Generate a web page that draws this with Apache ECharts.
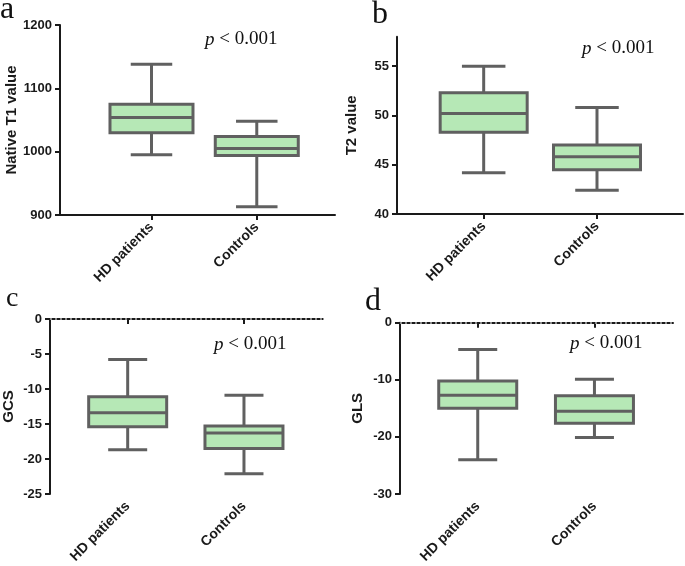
<!DOCTYPE html>
<html>
<head>
<meta charset="utf-8">
<script src="https://cdn.jsdelivr.net/npm/echarts@6/dist/echarts.min.js"></script>
<style>
html,body{margin:0;padding:0;background:#fff;}
#chart{width:685px;height:566px;}
</style>
</head>
<body>
<div id="chart"></div>
<script>
// ---- data ----
const categories = ['HD patients', 'Controls'];
const categoryPos = [1, 2];
// [min, Q1, median, Q3, max]
const t1HD = [995, 1030, 1054, 1075, 1138];
const t1Ctrl = [913, 994, 1005, 1024, 1048];
const t2HD = [44.2, 48.3, 50.2, 52.3, 55.0];
const t2Ctrl = [42.4, 44.5, 45.8, 47.0, 50.8];
const gcsHD = [-18.7, -15.4, -13.4, -11.1, -5.8];
const gcsCtrl = [-22.1, -18.5, -16.3, -15.3, -10.9];
const glsHD = [-24.0, -15.0, -12.7, -10.2, -4.7];
const glsCtrl = [-20.1, -17.6, -15.5, -12.8, -9.9];
const t1Ticks = [900, 1000, 1100, 1200];
const t2Ticks = [40, 45, 50, 55];
const gcsTicks = [-25, -20, -15, -10, -5, 0];
const glsTicks = [-30, -20, -10, 0];
const pText = 'p < 0.001';
const panelLetters = ['a', 'b', 'c', 'd'];
const yNames = ['Native T1 value', 'T2 value', 'GCS', 'GLS'];

const chart = echarts.init(document.getElementById('chart'), null, {renderer: 'canvas'});

const GRAY = '#606060';
const FILL = '#b6e8b6';
const AXIS = '#1a1a1a';
const SANS = '"Liberation Sans", Arial, sans-serif';
const SERIF = '"Liberation Serif", "Times New Roman", serif';

function renderBox(boxW) {
  return function (params, api) {
    const x = api.value(0);
    const lo = api.coord([x, api.value(1)]);
    const q1 = api.coord([x, api.value(2)]);
    const med = api.coord([x, api.value(3)]);
    const q3 = api.coord([x, api.value(4)]);
    const hi = api.coord([x, api.value(5)]);
    const cx = lo[0];
    const hw = boxW / 2, cw = boxW / 4;
    const ls = {stroke: GRAY, lineWidth: 3, fill: null};
    return {
      type: 'group',
      children: [
        {type: 'line', shape: {x1: cx, y1: hi[1], x2: cx, y2: q3[1]}, style: ls},
        {type: 'line', shape: {x1: cx, y1: q1[1], x2: cx, y2: lo[1]}, style: ls},
        {type: 'line', shape: {x1: cx - cw, y1: hi[1], x2: cx + cw, y2: hi[1]}, style: ls},
        {type: 'line', shape: {x1: cx - cw, y1: lo[1], x2: cx + cw, y2: lo[1]}, style: ls},
        {type: 'rect', shape: {x: cx - hw, y: q3[1], width: boxW, height: q1[1] - q3[1]},
          style: {fill: FILL, stroke: GRAY, lineWidth: 3}},
        {type: 'line', shape: {x1: cx - hw, y1: med[1], x2: cx + hw, y2: med[1]}, style: ls}
      ]
    };
  };
}

const panels = [
  {grid: {left: 60, top: 25, width: 275, height: 190}, xr: [0.131, 2.743], yr: [900, 1200], ticks: t1Ticks,
    data: [t1HD, t1Ctrl], boxW: 83, nameGap: 41, zero: false},
  {grid: {left: 397, top: 36.7, width: 286, height: 177.3}, xr: [0.235, 2.759], yr: [40, 58], ticks: t2Ticks,
    data: [t2HD, t2Ctrl], boxW: 87, nameGap: 38, zero: false},
  {grid: {left: 50, top: 319, width: 272.7, height: 176.7}, xr: [0.332, 2.677], yr: [-25, 0], ticks: gcsTicks,
    data: [gcsHD, gcsCtrl], boxW: 78, nameGap: 34, zero: true},
  {grid: {left: 400, top: 322.7, width: 273, height: 171.3}, xr: [0.334, 2.673], yr: [-30, 0], ticks: glsTicks,
    data: [glsHD, glsCtrl], boxW: 78, nameGap: 35, zero: true}
];

const grids = [], xAxes = [], yAxes = [], series = [];
panels.forEach(function (p, i) {
  grids.push(Object.assign({containLabel: false}, p.grid));
  xAxes.push({
    type: 'value', gridIndex: i, min: p.xr[0], max: p.xr[1],
    axisLine: {show: true, lineStyle: {color: AXIS, width: 2}},
    axisTick: {show: true, customValues: categoryPos, length: 5, lineStyle: {color: AXIS, width: 2}},
    axisLabel: {
      customValues: categoryPos, rotate: 45, margin: 10,
      formatter: function (v) { return categories[Math.round(v) - 1]; },
      fontFamily: SANS, fontWeight: 'bold', fontSize: 14, color: '#1a1a1a'
    },
    splitLine: {show: false}
  });
  yAxes.push({
    type: 'value', gridIndex: i, min: p.yr[0], max: p.yr[1],
    name: yNames[i], nameLocation: 'middle', nameGap: p.nameGap,
    nameTextStyle: {fontFamily: SANS, fontWeight: 'bold', fontSize: 15, color: '#1a1a1a'},
    axisLine: {show: true, lineStyle: {color: AXIS, width: 2}},
    axisTick: {show: true, customValues: p.ticks, length: 5, lineStyle: {color: AXIS, width: 2}},
    axisLabel: {customValues: p.ticks, margin: 8, formatter: function (v) { return String(v); },
      fontFamily: SANS, fontWeight: 'bold', fontSize: 13, color: '#1a1a1a'},
    splitLine: {show: false}
  });
  const s = {
    type: 'custom', xAxisIndex: i, yAxisIndex: i,
    renderItem: renderBox(p.boxW),
    encode: {x: 0, y: [1, 2, 3, 4, 5]},
    data: p.data.map(function (d, k) { return [categoryPos[k]].concat(d); }),
    silent: true
  };
  if (p.zero) {
    s.markLine = {
      silent: true, symbol: 'none', label: {show: false},
      lineStyle: {type: [2, 3], color: '#8a8a8a', width: 2},
      data: [{yAxis: 0}]
    };
  }
  series.push(s);
});

const letterPos = [[0, 10, 32], [372, 15, 32], [6, 299, 28], [365, 302, 32]];
const pPos = [[205, 30], [582, 39], [214, 335], [570, 334]];
const graphics = [];
panelLetters.forEach(function (l, i) {
  graphics.push({type: 'text', x: letterPos[i][0], y: letterPos[i][1],
    style: {text: l, fontFamily: SERIF, fontSize: letterPos[i][2], fill: '#111', verticalAlign: 'middle', align: 'left'}});
  graphics.push({type: 'text', left: pPos[i][0], top: pPos[i][1],
    style: {
      text: '{i|p} < 0.001', fill: '#111', fontFamily: SERIF, fontSize: 19,
      rich: {i: {fontFamily: SERIF, fontStyle: 'italic', fontSize: 19, fill: '#111'}}
    }});
});

chart.setOption({
  animation: false,
  backgroundColor: '#fff',
  grid: grids,
  xAxis: xAxes,
  yAxis: yAxes,
  series: series,
  graphic: graphics
});
</script>
</body>
</html>
